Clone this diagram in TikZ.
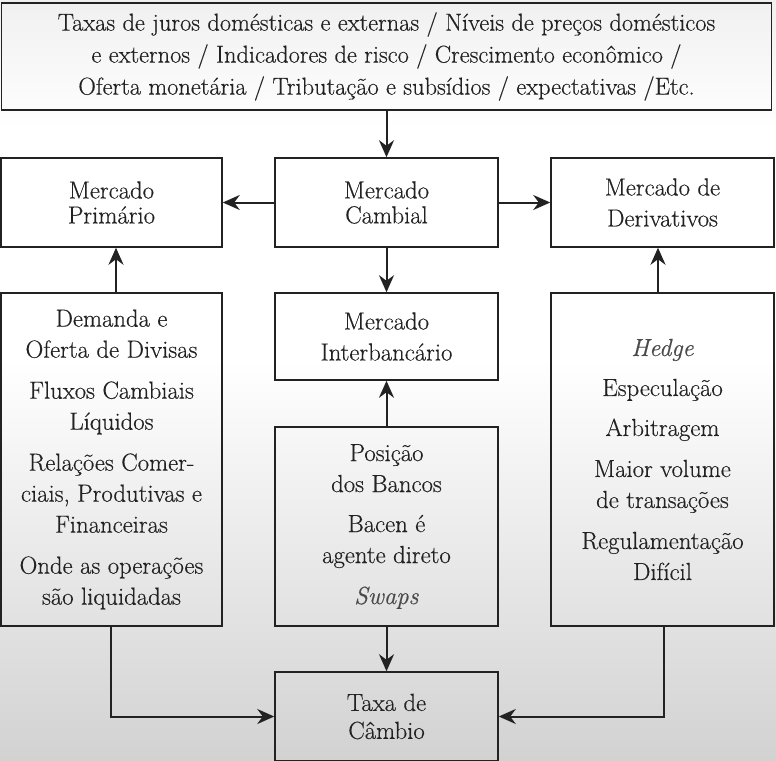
\documentclass[tikz,border=0pt]{standalone}
\usepackage{fontspec}
\setmainfont{Latin Modern Roman}[FakeBold=0.4]
\usetikzlibrary{arrows.meta}
\definecolor{ink}{HTML}{222222}
\definecolor{soft}{HTML}{4A4A4A}
\definecolor{bgbot}{HTML}{D2D2D2}
\definecolor{bgtop}{HTML}{F0F0F0}
\newcommand{\softit}[1]{\textcolor{soft}{\textit{#1}}}
\begin{document}
\begin{tikzpicture}[x=1pt,y=-1pt,
  box/.style={draw=ink, line width=1.5pt, align=center, inner sep=0pt,
    text=ink, font=\fontsize{24.7}{31}\selectfont},
  tight/.style={font=\fontsize{24.7}{25}\selectfont},
  arr/.style={draw=ink, line width=2pt, -{Stealth[length=17pt,width=15pt,inset=5.5pt]}}]
\useasboundingbox (0,0) rectangle (776,760);
\fill[white] (0,0) rectangle (776,760);
\shade[top color=bgtop, bottom color=white] (0,0) rectangle (776,130);
\shade[top color=white, bottom color=bgbot] (0,360) rectangle (776,760);

\node[box, minimum width=770pt, minimum height=107pt, font=\fontsize{24.4}{32}\selectfont] (top) at (386.5,56.5)
  {Taxas de juros domésticas e externas / Níveis de preços domésticos\\
   e externos / Indicadores de risco / Crescimento econômico /\\
   Oferta monetária / Tributação e subsídios / expectativas /Etc.};

\node[box, tight, minimum width=221pt, minimum height=89pt] (prim) at (111.5,202.5) {Mercado\\Primário};
\node[box, tight, minimum width=223pt, minimum height=89pt] (camb) at (386.5,202.5) {Mercado\\Cambial};
\node[box, minimum width=223pt, minimum height=89pt] (deriv) at (662.5,202.5) {Mercado de\\Derivativos};

\node[box, minimum width=221pt, minimum height=333pt] (left) at (111.5,459.5)
  {Demanda e\\Oferta de Divisas\\[10pt]Fluxos Cambiais\\Líquidos\\[10pt]Relações Comer-\\ciais, Produtivas e\\Financeiras\\[10pt]Onde as operações\\são liquidadas};
\node[box, minimum width=223pt, minimum height=87pt] (inter) at (386.5,336.5) {Mercado\\Interbancário};
\node[box, minimum width=223pt, minimum height=199pt] (pos) at (386.5,526.5)
  {Posição\\dos Bancos\\[9pt]Bacen é\\agente direto\\[10pt]\softit{Swaps}};
\node[box, minimum width=223pt, minimum height=333pt] (right) at (662.5,459.5)
  {\softit{Hedge}\\[9pt]Especulação\\[9pt]Arbitragem\\[10pt]Maior volume\\de transações\\[10pt]Regulamentação\\Difícil};
\node[box, font=\fontsize{24.7}{28}\selectfont, minimum width=223pt, minimum height=89pt] (taxa) at (386.5,716.5) {Taxa de\\Câmbio};

\draw[arr] (top.south -| camb.north) -- (camb.north);
\draw[arr] (camb.west) -- (prim.east);
\draw[arr] (camb.east) -- (deriv.west);
\draw[arr] (camb.south) -- (inter.north);
\draw[arr] (pos.north) -- (inter.south);
\draw[arr] (pos.south) -- (taxa.north);
\draw[arr] ([xshift=4.5pt]left.north) -- ([xshift=4.5pt]prim.south);
\draw[arr] ([xshift=-4.5pt]right.north) -- ([xshift=-4.5pt]deriv.south);
\draw[arr] ([xshift=-0.5pt]left.south) |- (taxa.west);
\draw[arr] ([xshift=1pt]right.south) |- (taxa.east);
\end{tikzpicture}
\end{document}
